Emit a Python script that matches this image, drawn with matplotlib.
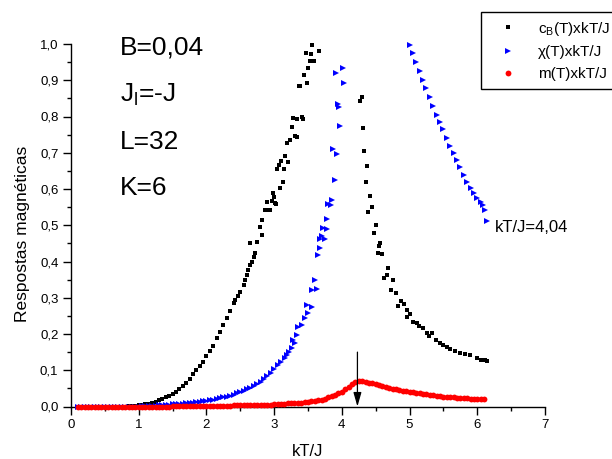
import matplotlib
matplotlib.use("Agg")
import matplotlib.pyplot as plt
from matplotlib.ticker import FuncFormatter, MultipleLocator

plt.rcParams["font.family"] = ["Liberation Sans", "DejaVu Sans"]
plt.rcParams["mathtext.fontset"] = "custom"
plt.rcParams["mathtext.rm"] = "Liberation Sans"
plt.rcParams["mathtext.it"] = "Liberation Sans:italic"

# ---- specific heat c_B(T) x kT/J ----
cb_t = [0.10, 0.15, 0.20, 0.25, 0.30, 0.35, 0.40, 0.45, 0.50, 0.55, 0.60, 0.65, 0.70, 0.75, 0.80,
        0.85, 0.90, 0.95, 1.00, 1.05, 1.10, 1.15, 1.20, 1.25, 1.30, 1.35, 1.40, 1.45, 1.50, 1.55,
        1.60, 1.65, 1.70, 1.75, 1.80, 1.85, 1.90, 1.95, 2.00, 2.05, 2.10, 2.15, 2.20, 2.25, 2.30,
        2.35, 2.40,
        2.42, 2.47, 2.50, 2.55, 2.57, 2.60, 2.62, 2.64, 2.65, 2.67, 2.70, 2.72, 2.75, 2.79, 2.82,
        2.82, 2.87, 2.89, 2.91, 2.94, 2.97, 2.98, 3.00, 3.01, 3.03, 3.04, 3.07, 3.09, 3.10, 3.13,
        3.15, 3.16, 3.19, 3.21, 3.23, 3.26, 3.28, 3.31, 3.34, 3.34, 3.37, 3.38, 3.41, 3.43, 3.44,
        3.47, 3.48, 3.50, 3.53, 3.54, 3.56, 3.59, 3.66,
        4.27, 4.30, 4.31, 4.33, 4.36, 4.37, 4.39, 4.42, 4.45, 4.48, 4.51, 4.54, 4.55, 4.56, 4.59,
        4.62, 4.67, 4.68, 4.73, 4.76, 4.80, 4.83, 4.87, 4.92, 4.96, 4.96, 5.01, 5.05, 5.11, 5.14,
        5.20, 5.26, 5.29, 5.33, 5.39, 5.45, 5.50, 5.55, 5.60, 5.67, 5.75, 5.82, 5.89, 6.00, 6.05,
        6.11, 6.14]
cb_val = [0.000, 0.000, 0.000, 0.000, 0.000, 0.000, 0.000, 0.000, 0.000, 0.000, 0.000, 0.000, 0.000, 0.000, 0.000,
          0.001, 0.001, 0.002, 0.003, 0.004, 0.006, 0.008, 0.010, 0.013, 0.017, 0.021, 0.025, 0.030, 0.035, 0.041,
          0.049, 0.057, 0.066, 0.077, 0.090, 0.100, 0.112, 0.124, 0.138, 0.152, 0.168, 0.188, 0.205, 0.225, 0.245,
          0.263, 0.285,
          0.294, 0.305, 0.316, 0.335, 0.349, 0.362, 0.376, 0.450, 0.390, 0.398, 0.412, 0.423, 0.454, 0.495, 0.473,
          0.514, 0.541, 0.564, 0.541, 0.541, 0.566, 0.590, 0.578, 0.561, 0.558, 0.655, 0.666, 0.602, 0.677, 0.619,
          0.655, 0.690, 0.726, 0.674, 0.735, 0.771, 0.796, 0.746, 0.744, 0.793, 0.884, 0.884, 0.799, 0.793, 0.914,
          0.974, 0.892, 0.933, 0.952, 0.972, 0.998, 0.952, 0.980,
          0.842, 0.853, 0.768, 0.705, 0.620, 0.664, 0.536, 0.582, 0.549, 0.478, 0.500, 0.423, 0.443, 0.451, 0.421,
          0.355, 0.363, 0.382, 0.321, 0.349, 0.313, 0.276, 0.290, 0.283, 0.265, 0.246, 0.254, 0.233, 0.230, 0.222,
          0.217, 0.203, 0.195, 0.203, 0.184, 0.175, 0.170, 0.165, 0.159, 0.153, 0.148, 0.144, 0.141, 0.133, 0.128,
          0.127, 0.125]

# ---- susceptibility chi(T) x kT/J ----
chi_t = [0.10, 0.15, 0.20, 0.25, 0.30, 0.35, 0.40, 0.45, 0.50, 0.55, 0.60, 0.65, 0.70, 0.75, 0.80,
         0.85, 0.90, 0.95, 1.00, 1.05, 1.10, 1.15, 1.20, 1.25, 1.30, 1.35, 1.40, 1.45, 1.50, 1.55,
         1.60, 1.65, 1.70, 1.75, 1.80, 1.85, 1.90, 1.95, 2.00, 2.05, 2.10, 2.15, 2.20, 2.25, 2.30,
         2.35, 2.40, 2.45, 2.50, 2.55, 2.60, 2.65, 2.70, 2.75, 2.80, 2.85, 2.90, 2.95, 3.00, 3.05,
         3.10,
         3.16, 3.19, 3.22, 3.26, 3.28, 3.31, 3.34, 3.35, 3.41, 3.46, 3.49, 3.50, 3.56, 3.56, 3.60,
         3.63, 3.65, 3.68, 3.68, 3.71, 3.72, 3.75, 3.78, 3.78, 3.80, 3.84, 3.86, 3.87, 3.90, 3.91,
         3.93, 3.94, 3.96, 3.97, 4.02, 4.03,
         5.00, 5.05, 5.10, 5.15, 5.20, 5.25, 5.30, 5.35, 5.40, 5.45, 5.50, 5.55, 5.60, 5.65, 5.70,
         5.75, 5.80, 5.85, 5.90, 5.95, 6.00, 6.05, 6.08, 6.11, 6.14]
chi_val = [0.000, 0.000, 0.000, 0.000, 0.000, 0.000, 0.000, 0.000, 0.000, 0.000, 0.000, 0.000, 0.000, 0.000, 0.000,
           0.000, 0.000, 0.000, 0.000, 0.001, 0.001, 0.002, 0.002, 0.002, 0.003, 0.003, 0.004, 0.005, 0.006, 0.007,
           0.008, 0.008, 0.009, 0.010, 0.011, 0.012, 0.013, 0.015, 0.016, 0.018, 0.019, 0.021, 0.023, 0.025, 0.027,
           0.030, 0.033, 0.036, 0.040, 0.043, 0.047, 0.051, 0.056, 0.062, 0.068, 0.076, 0.084, 0.092, 0.103, 0.114,
           0.123,
           0.134, 0.142, 0.150, 0.161, 0.184, 0.175, 0.197, 0.219, 0.225, 0.244, 0.279, 0.257, 0.274, 0.321, 0.349,
           0.324, 0.417, 0.436, 0.463, 0.471, 0.493, 0.463, 0.490, 0.518, 0.559, 0.556, 0.570, 0.710, 0.625, 0.920,
           0.696, 0.834, 0.826, 0.773, 0.933, 0.892,
           0.998, 0.975, 0.950, 0.925, 0.900, 0.880, 0.855, 0.830, 0.805, 0.785, 0.765, 0.740, 0.720, 0.700, 0.680,
           0.660, 0.640, 0.620, 0.602, 0.588, 0.575, 0.565, 0.556, 0.541, 0.513]

# ---- magnetization m(T) x kT/J ----
m_t = [0.10, 0.15, 0.20, 0.25, 0.30, 0.35, 0.40, 0.45, 0.50, 0.55, 0.60, 0.65, 0.70, 0.75, 0.80,
       0.85, 0.90, 0.95, 1.00, 1.05, 1.10, 1.15, 1.20, 1.25, 1.30, 1.35, 1.40, 1.45, 1.50, 1.55,
       1.60, 1.65, 1.70, 1.75, 1.80, 1.85, 1.90, 1.95, 2.00, 2.05, 2.10, 2.15, 2.20, 2.25, 2.30,
       2.35, 2.40, 2.45, 2.50, 2.55, 2.60, 2.65, 2.70, 2.75, 2.80, 2.85, 2.90, 2.95, 3.00, 3.05,
       3.10, 3.15, 3.20, 3.25, 3.30, 3.35, 3.40, 3.45, 3.50, 3.55, 3.60, 3.65, 3.70, 3.75, 3.80,
       3.85, 3.90, 3.95, 4.00, 4.05, 4.10, 4.15, 4.20, 4.25, 4.30, 4.35, 4.40, 4.45, 4.50, 4.55,
       4.60, 4.65, 4.70, 4.75, 4.80, 4.85, 4.90, 4.95, 5.00, 5.05, 5.10, 5.15, 5.20, 5.25, 5.30,
       5.35, 5.40, 5.45, 5.50, 5.55, 5.60, 5.65, 5.70, 5.75, 5.80, 5.85, 5.90, 5.95, 6.00, 6.05,
       6.10]
m_val = [0.000, 0.000, 0.000, 0.000, 0.000, 0.000, 0.000, 0.000, 0.000, 0.000, 0.000, 0.000, 0.000, 0.000, 0.000,
         0.000, 0.000, 0.000, 0.000, 0.000, 0.000, 0.000, 0.000, 0.000, 0.000, 0.000, 0.000, 0.000, 0.001, 0.001,
         0.001, 0.001, 0.001, 0.001, 0.001, 0.001, 0.001, 0.001, 0.002, 0.002, 0.002, 0.002, 0.002, 0.002, 0.002,
         0.002, 0.003, 0.003, 0.003, 0.003, 0.003, 0.004, 0.004, 0.004, 0.004, 0.005, 0.005, 0.005, 0.006, 0.006,
         0.007, 0.008, 0.009, 0.009, 0.010, 0.011, 0.011, 0.012, 0.013, 0.015, 0.016, 0.017, 0.019, 0.022, 0.025,
         0.028, 0.032, 0.036, 0.040, 0.047, 0.054, 0.062, 0.068, 0.071, 0.070, 0.068, 0.066, 0.064, 0.062, 0.059,
         0.056, 0.054, 0.051, 0.049, 0.047, 0.046, 0.044, 0.042, 0.041, 0.040, 0.038, 0.037, 0.035, 0.034, 0.032,
         0.031, 0.029, 0.028, 0.027, 0.026, 0.025, 0.025, 0.024, 0.024, 0.023, 0.023, 0.022, 0.022, 0.021, 0.021,
         0.020]

x_ticks = [0, 1, 2, 3, 4, 5, 6, 7]
y_ticks = [0.0, 0.1, 0.2, 0.3, 0.4, 0.5, 0.6, 0.7, 0.8, 0.9, 1.0]
params = ["B=0,04", r"J$_{\mathregular{l}}$=-J", "L=32", "K=6"]
tc_label = "kT/J=4,04"
arrow_t = 4.23

fig = plt.figure(figsize=(6.12, 4.59), dpi=100)
ax = fig.add_axes([71 / 612, 52.5 / 459, 474 / 612, 362.5 / 459])

ax.plot(cb_t, cb_val, ls="none", marker="s", ms=3.1, mew=0, color="black",
        label=r"c$_{\mathregular{B}}$(T)xkT/J", clip_on=False, zorder=3)
ax.plot(chi_t, chi_val, ls="none", marker=">", ms=4.2, mew=0, color="#0000ff",
        label="χ(T)xkT/J", clip_on=False, zorder=4)
ax.plot(m_t, m_val, ls="none", marker="o", ms=4.2, mew=0, color="#ff0000",
        label="m(T)xkT/J", clip_on=False, zorder=5)

ax.set_xlim(x_ticks[0], x_ticks[-1])
ax.set_ylim(y_ticks[0], y_ticks[-1])
ax.set_xticks(x_ticks)
ax.set_yticks(y_ticks)
ax.xaxis.set_minor_locator(MultipleLocator(0.5))
ax.yaxis.set_minor_locator(MultipleLocator(0.05))
ax.yaxis.set_major_formatter(FuncFormatter(lambda v, p: f"{v:.1f}".replace(".", ",")))
ax.xaxis.set_major_formatter(FuncFormatter(lambda v, p: f"{v:.0f}"))

for side in ("top", "right"):
    ax.spines[side].set_visible(False)
for side in ("left", "bottom"):
    ax.spines[side].set_linewidth(1.0)
ax.tick_params(which="major", direction="out", length=6, width=1.0, labelsize=9.5, pad=3)
ax.tick_params(which="minor", direction="out", length=3, width=1.0)

ax.set_xlabel("kT/J", fontsize=12)
ax.set_ylabel("Respostas magnéticas", fontsize=12.5)
ax.xaxis.set_label_coords(0.5, -0.104)
ax.yaxis.set_label_coords(-0.087, 0.475)

# system parameters
for txt, yy in zip(params, [0.972, 0.840, 0.710, 0.583]):
    ax.text(0.72, yy, txt, fontsize=19, ha="left", va="baseline")

ax.text(6.26, 0.481, tc_label, fontsize=12, ha="left", va="baseline")

ax.annotate("", xy=(arrow_t, 0.0), xytext=(arrow_t, 0.15),
            arrowprops=dict(arrowstyle="-|>,head_length=0.7,head_width=0.2",
                            color="black", lw=0.9, mutation_scale=12, shrinkA=0, shrinkB=0),
            zorder=6)

leg = fig.legend(loc="upper left", bbox_to_anchor=(481 / 612, 1 - 12 / 459),
                 bbox_transform=fig.transFigure, fontsize=11, frameon=True, fancybox=False,
                 edgecolor="black", framealpha=1, borderpad=0.5, handlelength=2.5,
                 handletextpad=0.75, labelspacing=0.5, borderaxespad=0)
leg.get_frame().set_linewidth(1.0)

fig.savefig("out.png", dpi=100)
